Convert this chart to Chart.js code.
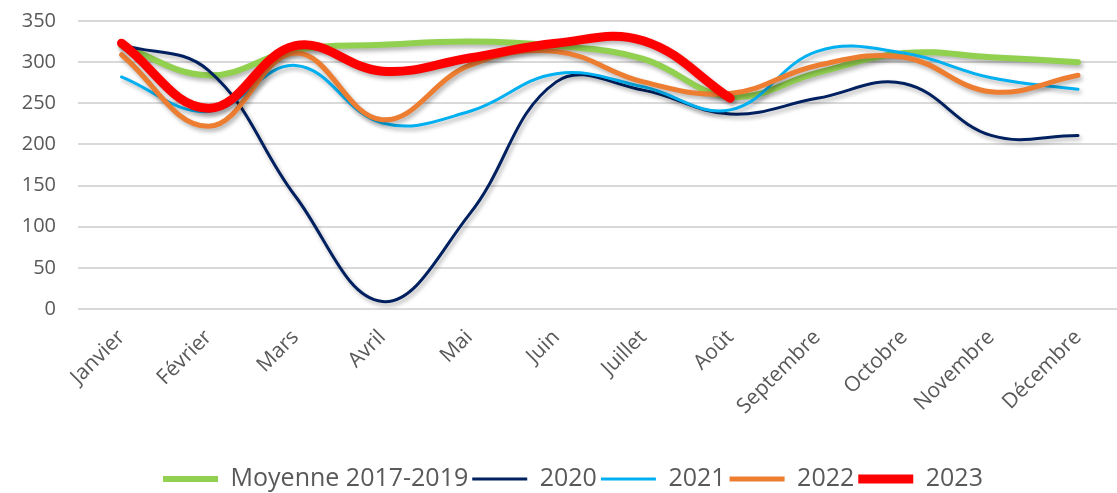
<!DOCTYPE html>
<html>
<head>
<meta charset="utf-8">
<script src="https://cdn.jsdelivr.net/npm/chart.js@4.4.1/dist/chart.umd.min.js"></script>
<style>
  html, body { margin: 0; padding: 0; background: #fff; overflow: hidden; }
  #wrap { width: 1126px; height: 493px; }
  #warm { font-family: 'Open Sans'; position: absolute; left: -999px; top: 0; }
</style>
</head>
<body>
<span id="warm">Moyenne 2017-2019 Janvier</span>
<div id="wrap"><canvas id="chart"></canvas></div>
<script>
const months = ['Janvier', 'Février', 'Mars', 'Avril', 'Mai', 'Juin', 'Juillet', 'Août', 'Septembre', 'Octobre', 'Novembre', 'Décembre'];

const moyenne = [320, 284, 315, 321, 325, 320, 304, 258, 287, 311, 306, 300];
const y2020 = [321, 290, 137, 9, 115, 276, 266, 237, 256, 274, 211, 211];
const y2021 = [282, 240, 296, 226, 240, 286, 270, 242, 313, 311, 281, 267];
const y2022 = [309, 222, 311, 230, 296, 313, 276, 262, 296, 306, 264, 284];
const y2023 = [323, 244, 320, 289, 305, 323, 326, 256];

const textColor = '#595959';

// soft drop shadow under the lines, like the office chart
const shadow = {
  id: 'shadow',
  beforeDatasetsDraw(chart) {
    const ctx = chart.ctx;
    ctx.save();
    ctx.shadowColor = 'rgba(0,0,0,0.3)';
    ctx.shadowBlur = 4;
    ctx.shadowOffsetX = 2;
    ctx.shadowOffsetY = 3;
  },
  afterDatasetsDraw(chart) {
    chart.ctx.restore();
  }
};

function line(label, data, color, width, order) {
  return {
    label: label,
    data: data,
    borderColor: color,
    backgroundColor: color,
    borderWidth: width,
    borderCapStyle: 'round',
    borderJoinStyle: 'round',
    pointRadius: 0,
    tension: 0.4,
    order: order
  };
}

const chart = new Chart(document.getElementById('chart'), {
  type: 'line',
  data: {
    labels: months,
    datasets: [
      line('Moyenne 2017-2019', moyenne, '#92D050', 6, 4),
      line('2020', y2020, '#002060', 3, 3),
      line('2021', y2021, '#00B0F0', 3, 2),
      line('2022', y2022, '#ED7D31', 5, 1),
      line('2023', y2023, '#FF0000', 9, 0)
    ]
  },
  options: {
    responsive: true,
    maintainAspectRatio: false,
    animation: false,
    layout: { padding: { top: 21, left: 20, right: 0, bottom: -8.5 } },
    scales: {
      x: {
        offset: true,
        grid: { display: false },
        border: { display: false },
        ticks: {
          color: textColor,
          font: { family: 'Open Sans', size: 21 },
          maxRotation: 45,
          minRotation: 45,
          padding: 8,
          autoSkip: false
        },
        afterFit(scale) {
          scale.height = 153.5;
          scale.paddingLeft = 0;
          scale.paddingRight = 0;
        }
      },
      y: {
        min: 0,
        max: 350,
        border: { display: false },
        grid: { color: '#D9D9D9', lineWidth: 2, drawTicks: false },
        ticks: {
          stepSize: 50,
          color: textColor,
          font: { family: 'Open Sans', size: 20 },
          padding: 22
        },
        afterFit(scale) {
          scale.width = 58;
          scale.paddingTop = 0;
          scale.paddingBottom = 0;
        }
      }
    },
    plugins: {
      legend: {
        position: 'bottom',
        labels: {
          usePointStyle: true,
          pointStyle: 'line',
          pointStyleWidth: 55,
          color: textColor,
          font: { family: 'Open Sans', size: 25 },
          padding: 4,
          sort: (a, b) => a.datasetIndex - b.datasetIndex
        }
      },
      tooltip: { enabled: false }
    }
  },
  plugins: [shadow]
});

// redo the layout once the font is surely there
document.fonts.ready.then(() => chart.update());
setTimeout(() => chart.update(), 150);
</script>
</body>
</html>
